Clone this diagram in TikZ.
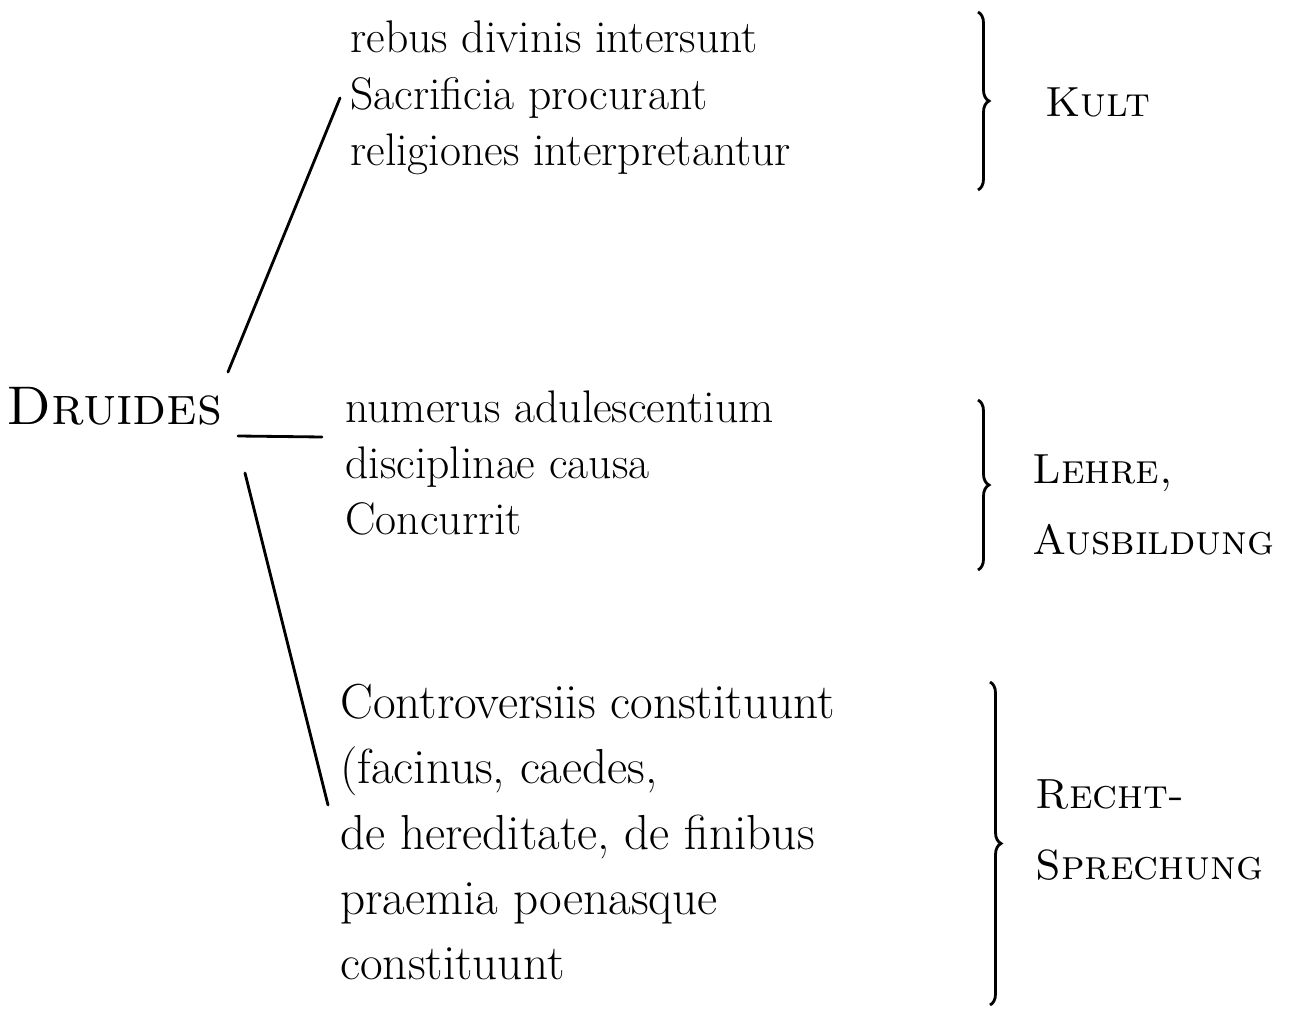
\documentclass[tikz,border=0pt]{standalone}
\usepackage{tikz}
\usetikzlibrary{positioning, calc, decorations.pathreplacing}

\tikzset{
  latin/.style={align=left, anchor=west, inner sep=0pt},
  topic/.style={align=left, anchor=west, inner sep=0pt, font=\fontsize{24}{40}\selectfont\scshape},
  strich/.style={line width=1.6pt, line cap=round},
  klammer/.style={line width=1.6pt, decorate, decoration={brace, amplitude=0.22cm}}
}

\begin{document}
\begin{tikzpicture}[x=0.02cm, y=-0.02cm]
\useasboundingbox (0,0) rectangle (1305,1013);

\node[topic, font=\fontsize{31}{34}\selectfont\scshape] (druides) at (6, 406) {Druides};

% Latin texts
\node[latin, font=\fontsize{26}{32}\selectfont] (kulttext) at (350, 98) {rebus divinis intersunt\\Sacrificia procurant\\religiones interpretantur};
\node[latin, font=\fontsize{26}{32}\selectfont] (lehretext) at (345, 463) {numerus adulescentium\\disciplinae causa\\Concurrit};
\node[latin, font=\fontsize{28}{37}\selectfont] (rechttext) at (340, 832) {Controversiis constituunt\\(facinus, caedes,\\de hereditate, de finibus\\praemia poenasque\\constituunt};

% Lines from the druids
\coordinate (obenA) at (228, 372);
\coordinate (obenB) at (340, 98);
\coordinate (mitteA) at (238, 436);
\coordinate (mitteB) at (322, 437);
\coordinate (untenA) at (245, 473);
\coordinate (untenB) at (328, 805);
\draw[strich] (obenA) -- (obenB);
\draw[strich] (mitteA) -- (mitteB);
\draw[strich] (untenA) -- (untenB);

% Braces
\draw[klammer] (978, 12) -- (978, 190);
\draw[klammer] (978, 400) -- (978, 570);
\draw[klammer] (990, 682) -- (990, 1005);

\node[topic] (kult) at (1045, 102) {Kult};
\node[topic] (lehre) at (1032, 505) {Lehre,\\Ausbildung};
\node[topic] (recht) at (1035, 830) {Recht-\\Sprechung};
\end{tikzpicture}
\end{document}
